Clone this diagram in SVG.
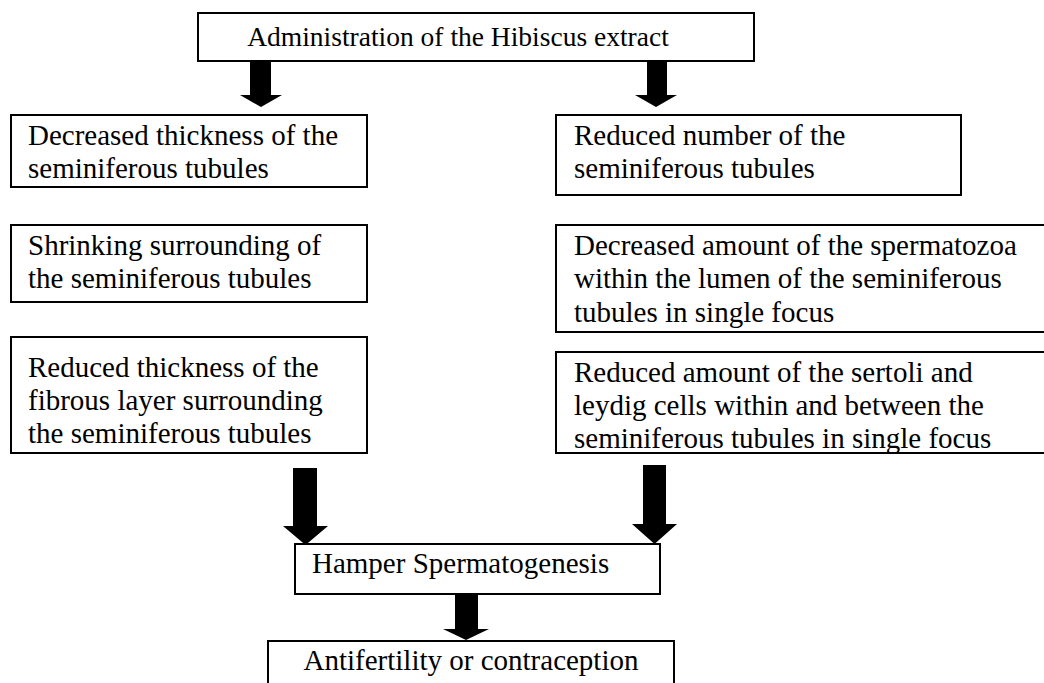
<svg xmlns="http://www.w3.org/2000/svg" width="1044" height="683" viewBox="0 0 1044 683">
<style>
.box{fill:#fff;stroke:#000;stroke-width:2}
.t{font-family:"Liberation Serif","Times New Roman",serif;font-size:29px;fill:#000}
.m{text-anchor:middle}
.arr{fill:#000;stroke:none}
</style>
<defs>
<clipPath id="clipR3"><rect x="556" y="352" width="500" height="101"/></clipPath>
</defs>
<rect width="1044" height="683" fill="#fff"/>
<g id="n-admin">
<rect class="box" x="198" y="13" width="556" height="48"/>
<text class="t m" x="458" y="46" style="font-size:27.5px">Administration of the Hibiscus extract</text>
</g>
<g id="n-left1">
<rect class="box" x="11" y="115" width="356" height="72"/>
<text class="t" x="28" y="145">Decreased thickness of the</text>
<text class="t" x="28" y="178">seminiferous tubules</text>
</g>
<g id="n-left2">
<rect class="box" x="11" y="225" width="356" height="77"/>
<text class="t" x="28" y="255">Shrinking surrounding of</text>
<text class="t" x="28" y="288">the seminiferous tubules</text>
</g>
<g id="n-left3">
<rect class="box" x="11" y="337" width="356" height="116"/>
<text class="t" x="28" y="377">Reduced thickness of the</text>
<text class="t" x="28" y="410">fibrous layer surrounding</text>
<text class="t" x="28" y="443">the seminiferous tubules</text>
</g>
<g id="n-right1">
<rect class="box" x="556" y="115" width="405" height="80"/>
<text class="t" x="574" y="145">Reduced number of the</text>
<text class="t" x="574" y="178">seminiferous tubules</text>
</g>
<g id="n-right2">
<rect class="box" x="556" y="225" width="500" height="107"/>
<text class="t" x="574" y="255">Decreased amount of the spermatozoa</text>
<text class="t" x="574" y="288">within the lumen of the seminiferous</text>
<text class="t" x="574" y="322">tubules in single focus</text>
</g>
<g id="n-right3">
<rect class="box" x="556" y="352" width="500" height="101"/>
<g clip-path="url(#clipR3)">
<text class="t" x="574" y="382">Reduced amount of the sertoli and</text>
<text class="t" x="574" y="415">leydig cells within and between the</text>
<text class="t" x="574" y="448">seminiferous tubules in single focus</text>
</g>
<rect x="556" y="352" width="500" height="101" fill="none" stroke="#000" stroke-width="2"/>
</g>
<g id="n-hamper">
<rect class="box" x="295" y="544" width="365" height="50"/>
<text class="t" x="312" y="573">Hamper Spermatogenesis</text>
</g>
<g id="n-anti">
<rect class="box" x="268" y="641" width="406" height="60"/>
<text class="t m" x="471" y="670">Antifertility or contraception</text>
</g>
<g id="connectors">
<polygon class="arr" points="250,61 271,61 271,95 282,95 261,107 240,95 250,95"/>
<polygon class="arr" points="647,61 667,61 667,95 677,95 656,107 635,95 647,95"/>
<polygon class="arr" points="293,468 317,468 317,526 328,526 305.5,545 283,526 293,526"/>
<polygon class="arr" points="643,465 666,465 666,524 677,524 654.5,544 632,524 643,524"/>
<polygon class="arr" points="455,594 478,594 478,629 489,629 466,640 443,629 455,629"/>
</g>
</svg>
